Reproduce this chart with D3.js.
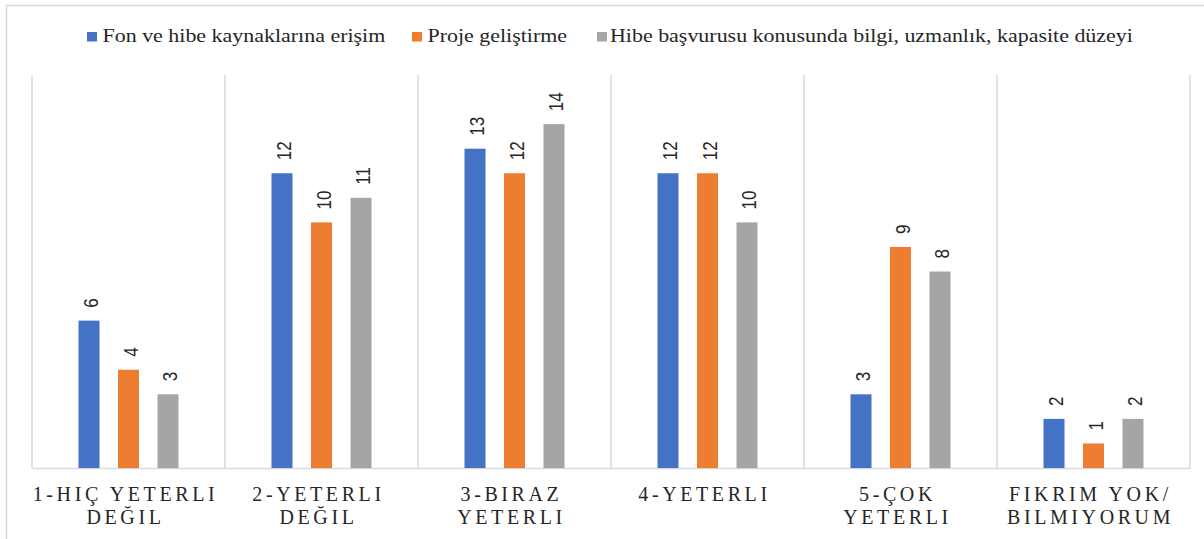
<!DOCTYPE html>
<html>
<head>
<meta charset="utf-8">
<script src="https://cdn.jsdelivr.net/npm/d3@7"></script>
<style>
  body { margin: 0; background: #fff; }
  svg { display: block; }
</style>
</head>
<body>
<div id="chart"></div>
<script>
const categories = ['1-HIÇ YETERLI\nDEĞIL', '2-YETERLI\nDEĞIL', '3-BIRAZ\nYETERLI', '4-YETERLI', '5-ÇOK\nYETERLI', 'FIKRIM YOK/\nBILMIYORUM'];
const seriesNames = ['Fon ve hibe kaynaklarına erişim', 'Proje geliştirme', 'Hibe başvurusu konusunda bilgi, uzmanlık, kapasite düzeyi'];
const fonValues = [6, 12, 13, 12, 3, 2];
const projeValues = [4, 10, 12, 12, 9, 1];
const hibeValues = [3, 11, 14, 10, 8, 2];
const colors = ['#4472c4', '#ed7d31', '#a5a5a5'];

const width = 1204, height = 539;
const plotLeft = 32, plotRight = 1190, plotTop = 75, plotBottom = 468;
const stretch = 1.22; // text in the source picture is a bit wider than tall

const svg = d3.select('#chart').append('svg')
    .attr('width', width)
    .attr('height', height);

// chart border
svg.append('rect')
    .attr('x', 6.5).attr('y', 5.5)
    .attr('width', 1210).attr('height', 560)
    .attr('fill', 'none')
    .attr('stroke', '#d9d9d9')
    .attr('stroke-width', 1.5);

const series = [fonValues, projeValues, hibeValues];
const rows = categories.map((c, i) => ({ cat: c, vals: series.map(s => s[i]) }));

const x = d3.scaleBand().domain(categories).range([plotLeft, plotRight]);
const step = 39.5, barW = 21;
const outer = (x.bandwidth() - step * (3 - (step - barW) / step)) / 2 / step;
const xs = d3.scaleBand().domain([0, 1, 2]).range([0, x.bandwidth()])
    .paddingInner((step - barW) / step).paddingOuter(outer);
const y = d3.scaleLinear().domain([0, 16]).range([plotBottom, plotTop]);

// vertical separators
const bounds = categories.map(c => x(c)).concat([plotRight]);
svg.append('g').selectAll('line')
    .data(bounds)
    .enter().append('line')
    .attr('x1', d => d).attr('x2', d => d)
    .attr('y1', plotTop).attr('y2', plotBottom)
    .attr('stroke', '#d9d9d9')
    .attr('stroke-width', 1.5);

// x axis
const xAxis = d3.axisBottom(x).tickSize(0).tickFormat('');
const gx = svg.append('g')
    .attr('transform', 'translate(0,' + plotBottom + ')')
    .call(xAxis);
gx.select('.domain').attr('stroke', '#d9d9d9').attr('stroke-width', 1.5);

const groups = svg.selectAll('.group')
    .data(rows)
    .enter().append('g')
    .attr('class', 'group')
    .attr('transform', d => 'translate(' + x(d.cat) + ',0)');

groups.selectAll('rect')
    .data(d => d.vals)
    .enter().append('rect')
    .attr('x', (d, i) => xs(i))
    .attr('y', d => y(d))
    .attr('width', xs.bandwidth())
    .attr('height', d => plotBottom - y(d))
    .attr('fill', (d, i) => colors[i]);

groups.selectAll('.val')
    .data(d => d.vals)
    .enter().append('text')
    .attr('class', 'val')
    .attr('transform', (d, i) => 'translate(' + (xs(i) + xs.bandwidth() / 2 + 2) + ',' + (y(d) - 13) + ') rotate(-90) scale(1,' + stretch + ')')
    .attr('dy', '0.36em')
    .attr('font-family', 'Liberation Sans, Arial, sans-serif')
    .attr('font-size', '17px')
    .attr('fill', '#262626')
    .text(d => d);

// category labels
const catLabels = svg.selectAll('.cat')
    .data(categories)
    .enter().append('text')
    .attr('class', 'cat')
    .attr('text-anchor', 'middle')
    .attr('font-family', 'Liberation Serif, Times New Roman, serif')
    .attr('font-size', '20px')
    .attr('letter-spacing', '3.6px')
    .attr('fill', '#262626');

catLabels.selectAll('tspan')
    .data(d => d.split('\n').map(t => ({ t: t, c: d })))
    .enter().append('tspan')
    .attr('x', d => x(d.c) + x.bandwidth() / 2 - 3)
    .attr('y', (d, i) => 501 + i * 22.5)
    .text(d => d.t);

// legend
const legendX = [87, 412, 597];
const legend = svg.selectAll('.legend')
    .data(seriesNames)
    .enter().append('g')
    .attr('class', 'legend')
    .attr('transform', (d, i) => 'translate(' + legendX[i] + ',32)');

legend.append('rect')
    .attr('width', 10).attr('height', 9.5)
    .attr('fill', (d, i) => colors[i]);

legend.append('text')
    .attr('transform', (d, i) => 'translate(' + (i === 2 ? 13 : 15.5) + ',10) scale(' + stretch + ',1)')
    .attr('font-family', 'Liberation Serif, Times New Roman, serif')
    .attr('font-size', '18px')
    .attr('fill', '#262626')
    .text(d => d);
</script>
</body>
</html>
